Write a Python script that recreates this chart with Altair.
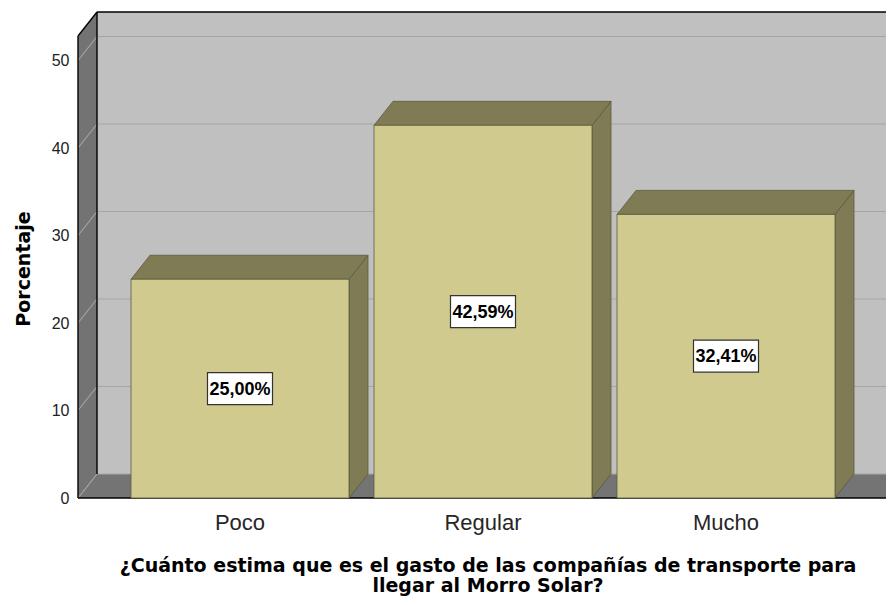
import altair as alt
import pandas as pd

# ---------------- data ----------------
categories = ["Poco", "Regular", "Mucho"]
values = [25.00, 42.59, 32.41]
y_ticks = [0, 10, 20, 30, 40, 50]
y_title = "Porcentaje"
x_title = ["¿Cuánto estima que es el gasto de las compañías de transporte para",
           "llegar al Morro Solar?"]

# ---------------- geometry / style constants ----------------
PX_STEP = 243.0        # pixels per category step
PX_PER_UNIT = 8.75     # pixels per percentage point
W, H = 808, 486        # plot area
XMAX = W / PX_STEP
YMAX = H / PX_PER_UNIT
DX = 19 / PX_STEP      # 3D depth, x
DY = 24 / PX_PER_UNIT  # 3D depth, y
HALF = 109 / PX_STEP   # half bar width
FIRST = 2 / 3          # centre of first category
FRONT_TOP = YMAX - DY

REG = "'Liberation Sans', Arial, sans-serif"
BOLD = "'DejaVu Sans', sans-serif"

WALL = "#c0c0c0"
SIDE_WALL = "#737373"
FLOOR = "#747474"
GRID = "#a6a6a6"
BAR_FRONT = "#d0ca8e"
BAR_DARK = "#7f7b55"
BAR_EDGE = "#5c5a3e"

xs = alt.Scale(domain=[0, XMAX], nice=False, zero=False)
ys = alt.Scale(domain=[0, YMAX], nice=False, zero=False)
yaxis = alt.Axis(title=y_title, values=y_ticks, grid=False, domain=False, ticks=False,
                 labelPadding=9, labelFont=REG, labelFontSize=16, labelColor="#222222",
                 titleFont=BOLD, titleFontWeight="bold", titleFontSize=19, titleColor="#000000",
                 titleX=-45, titleY=256.5, titleAngle=270, titleBaseline="bottom", titleAlign="center")


def X(f):
    return alt.X(f, type="quantitative", scale=xs, axis=None)


def Y(f):
    return alt.Y(f, type="quantitative", scale=ys, axis=yaxis)


# ---------------- tables built from the lists ----------------
centers = [FIRST + i for i in range(len(categories))]
bars = pd.DataFrame({
    "category": categories,
    "v": values,
    "c": centers,
})
bars["x0"] = bars["c"] - HALF
bars["x1"] = bars["c"] + HALF
bars["zero"] = 0.0
bars["mid"] = bars["v"] / 2
bars["label"] = [f"{v:.2f}".replace(".", ",") + "%" for v in values]

side_rows, top_rows = [], []
for name, v, x0, x1 in zip(bars["category"], bars["v"], bars["x0"], bars["x1"]):
    side_rows.append({"category": name, "x": x1, "y": 0.0, "y2": v})
    side_rows.append({"category": name, "x": x1 + DX, "y": DY, "y2": v + DY})
    top_rows.append({"category": name, "y": v, "x": x0, "x2": x1})
    top_rows.append({"category": name, "y": v + DY, "x": x0 + DX, "x2": x1 + DX})
side_df = pd.DataFrame(side_rows)
top_df = pd.DataFrame(top_rows)

back_df = pd.DataFrame({"x": [DX], "x2": [XMAX], "y": [DY], "y2": [YMAX]})
lwall_df = pd.DataFrame({"x": [0.0, DX], "y": [0.0, DY], "y2": [FRONT_TOP, YMAX]})
floor_df = pd.DataFrame({"y": [0.0, DY], "x": [0.0, DX], "x2": [XMAX, XMAX]})
grid_back = pd.DataFrame({"x": DX, "x2": XMAX, "y": [t + DY for t in y_ticks]})
grid_back["y2"] = grid_back["y"]
grid_left = pd.DataFrame({"x": 0.0, "x2": DX, "y": [float(t) for t in y_ticks],
                          "y2": [t + DY for t in y_ticks]})
edges = pd.DataFrame({
    "x":  [0.0, 0.0, DX, DX, 0.0],
    "x2": [0.0, DX, DX, XMAX, XMAX],
    "y":  [0.0, FRONT_TOP, DY, YMAX, 0.0],
    "y2": [FRONT_TOP, YMAX, YMAX, YMAX, 0.0],
})

# ---------------- layers ----------------
back = alt.Chart(back_df).mark_rect(color=WALL).encode(
    x=X("x"), x2=alt.X2("x2"), y=Y("y"), y2=alt.Y2("y2"))

lwall = alt.Chart(lwall_df).mark_area(color=SIDE_WALL, orient="vertical", opacity=1).encode(
    x=X("x"), y=Y("y"), y2=alt.Y2("y2"))

floor = alt.Chart(floor_df).mark_area(color=FLOOR, orient="horizontal", opacity=1).encode(
    y=Y("y"), x=X("x"), x2=alt.X2("x2"))

gb = alt.Chart(grid_back).mark_rule(color=GRID, strokeWidth=1.1).encode(
    x=X("x"), x2=alt.X2("x2"), y=Y("y"), y2=alt.Y2("y2"))

gl = alt.Chart(grid_left).mark_rule(color=GRID, strokeWidth=1.1).encode(
    x=X("x"), x2=alt.X2("x2"), y=Y("y"), y2=alt.Y2("y2"))

edge = alt.Chart(edges).mark_rule(color="#000000", strokeWidth=1.4).encode(
    x=X("x"), x2=alt.X2("x2"), y=Y("y"), y2=alt.Y2("y2"))

side = alt.Chart(side_df).mark_area(fill=BAR_DARK, stroke=BAR_EDGE, strokeWidth=0.8,
                                    orient="vertical", opacity=1).encode(
    x=X("x"), y=Y("y"), y2=alt.Y2("y2"), detail="category:N")

top = alt.Chart(top_df).mark_area(fill=BAR_DARK, stroke=BAR_EDGE, strokeWidth=0.8,
                                  orient="horizontal", opacity=1).encode(
    y=Y("y"), x=X("x"), x2=alt.X2("x2"), detail="category:N")

front = alt.Chart(bars).mark_rect(fill=BAR_FRONT, stroke=BAR_EDGE, strokeWidth=0.8).encode(
    x=X("x0"), x2=alt.X2("x1"), y=Y("zero"), y2=alt.Y2("v"))

box = alt.Chart(bars).mark_point(
    shape="M-1,-0.4923L1,-0.4923L1,0.4923L-1,0.4923Z", size=4225, filled=True,
    fill="#ffffff", stroke="#333333", strokeWidth=1.2, opacity=1).encode(
    x=X("c"), y=Y("mid"))

label = alt.Chart(bars).mark_text(font=REG, fontWeight="bold", fontSize=18, color="#000000",
                                  align="center", baseline="middle", dy=1).encode(
    x=X("c"), y=Y("mid"), text="label:N")

xlab = alt.Chart(bars).mark_text(font=REG, fontSize=22, color="#262626",
                                 align="center", baseline="middle", dy=25).encode(
    x=X("c"), y=Y("zero"), text="category:N")

title_df = pd.DataFrame({"x": [XMAX / 2], "y": [0.0]})
xtitle = alt.Chart(title_df).mark_text(text=x_title, font=BOLD, fontWeight="bold", fontSize=19,
                                       color="#000000", align="center", baseline="alphabetic",
                                       dy=74, dx=6, lineHeight=20).encode(
    x=X("x"), y=Y("y"))

chart = alt.layer(back, lwall, floor, gb, gl, edge, side, top, front, box, label, xlab, xtitle).properties(
    width=W, height=H,
    autosize=alt.AutoSizeParams(type="none"),
    padding={"left": 70, "top": 4, "right": 0, "bottom": 99},
    background="#ffffff",
).configure_view(stroke=None)

chart.save("out.html", embed_options={"renderer": "svg", "actions": False})
